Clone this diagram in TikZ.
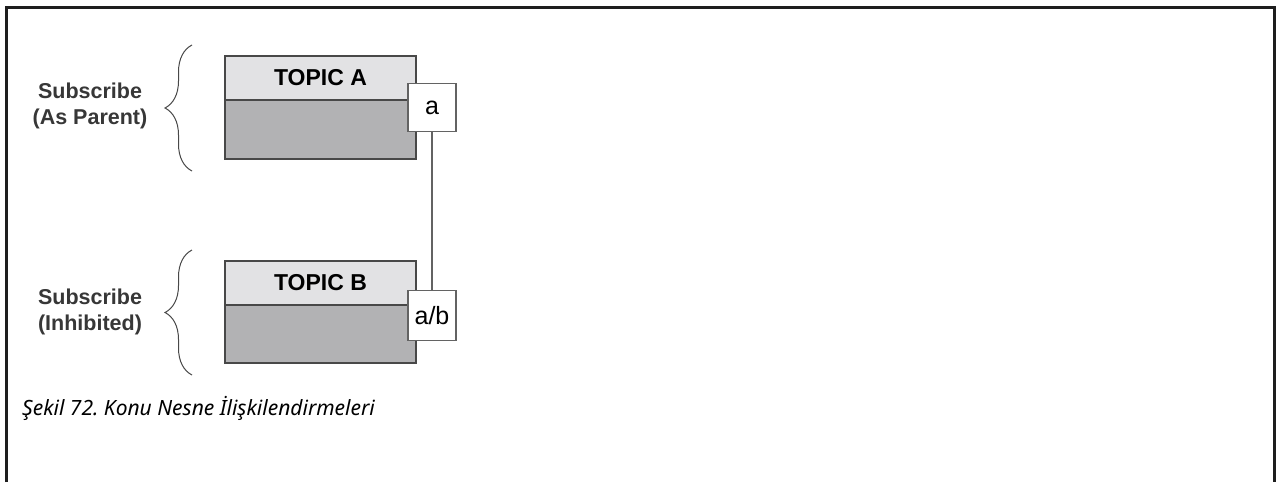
\documentclass[tikz,border=0pt]{standalone}
\usepackage{fontspec}
\setmainfont{Liberation Sans}
\newfontfamily\capfont{Noto Sans}
\usetikzlibrary{positioning,decorations.pathreplacing}
\definecolor{cHead}{RGB}{226,226,228}
\definecolor{cBody}{RGB}{178,178,180}
\definecolor{cEdge}{RGB}{72,72,72}
\definecolor{cLabel}{RGB}{55,55,55}
\definecolor{cFrame}{RGB}{30,30,30}
\frenchspacing
\tikzset{
  topicbody/.style={rectangle,draw=cEdge,line width=1.6pt,fill=cBody,
                    minimum width=191pt,minimum height=103pt,inner sep=0pt},
  topichead/.style={rectangle,draw=cEdge,line width=1.6pt,fill=cHead,
                    minimum width=191pt,minimum height=44pt,inner sep=0pt,
                    font=\fontsize{23}{27}\selectfont\bfseries},
  tagbox/.style={rectangle,draw=cEdge!85,line width=1.2pt,fill=white,
                 minimum width=48pt,minimum height=48pt,inner sep=0pt,
                 font=\fontsize{25}{30}\selectfont},
  sidelabel/.style={align=center,text=cLabel,
                    font=\fontsize{21.5}{25.5}\selectfont\bfseries},
  bracearr/.style={decorate,decoration={brace,amplitude=27pt},
                   draw=cEdge,line width=1pt},
  linkline/.style={draw=cEdge!85,line width=1.4pt}
}
\begin{document}
\begin{tikzpicture}[x=1pt,y=-1pt]
  \useasboundingbox (0,0) rectangle (1276,482);
  \draw[cFrame,line width=3pt] (6,482) -- (6,7) -- (1274,7) -- (1274,482);

  % topic A
  \node[topicbody] (tA) at (320.5,107.5) {};
  \node[topichead,anchor=north] (tAh) at (tA.north) {TOPIC A};
  \node[tagbox] (a) at (432,107.5) {a};

  % topic B
  \node[topicbody,minimum height=102pt] (tB) at (320.5,312) {};
  \node[topichead,anchor=north] (tBh) at (tB.north) {TOPIC B};
  \node[tagbox,minimum height=50pt] (ab) at (432,315.5) {a/b};

  \draw[linkline] (a) -- (ab);

  \draw[bracearr] (192,171) -- (192,45);
  \draw[bracearr] (192,375) -- (192,250);

  \node[sidelabel] (lA) at (90,106) {Subscribe\\(As Parent)};
  \node[sidelabel] (lB) at (90,312) {Subscribe\\(Inhibited)};

  \node[anchor=base west,inner sep=0pt,
        font=\capfont\itshape\fontsize{21}{25}\selectfont] (cap) at (22,415)
      {Şekil 72. Konu Nesne İlişkilendirmeleri};
\end{tikzpicture}
\end{document}
